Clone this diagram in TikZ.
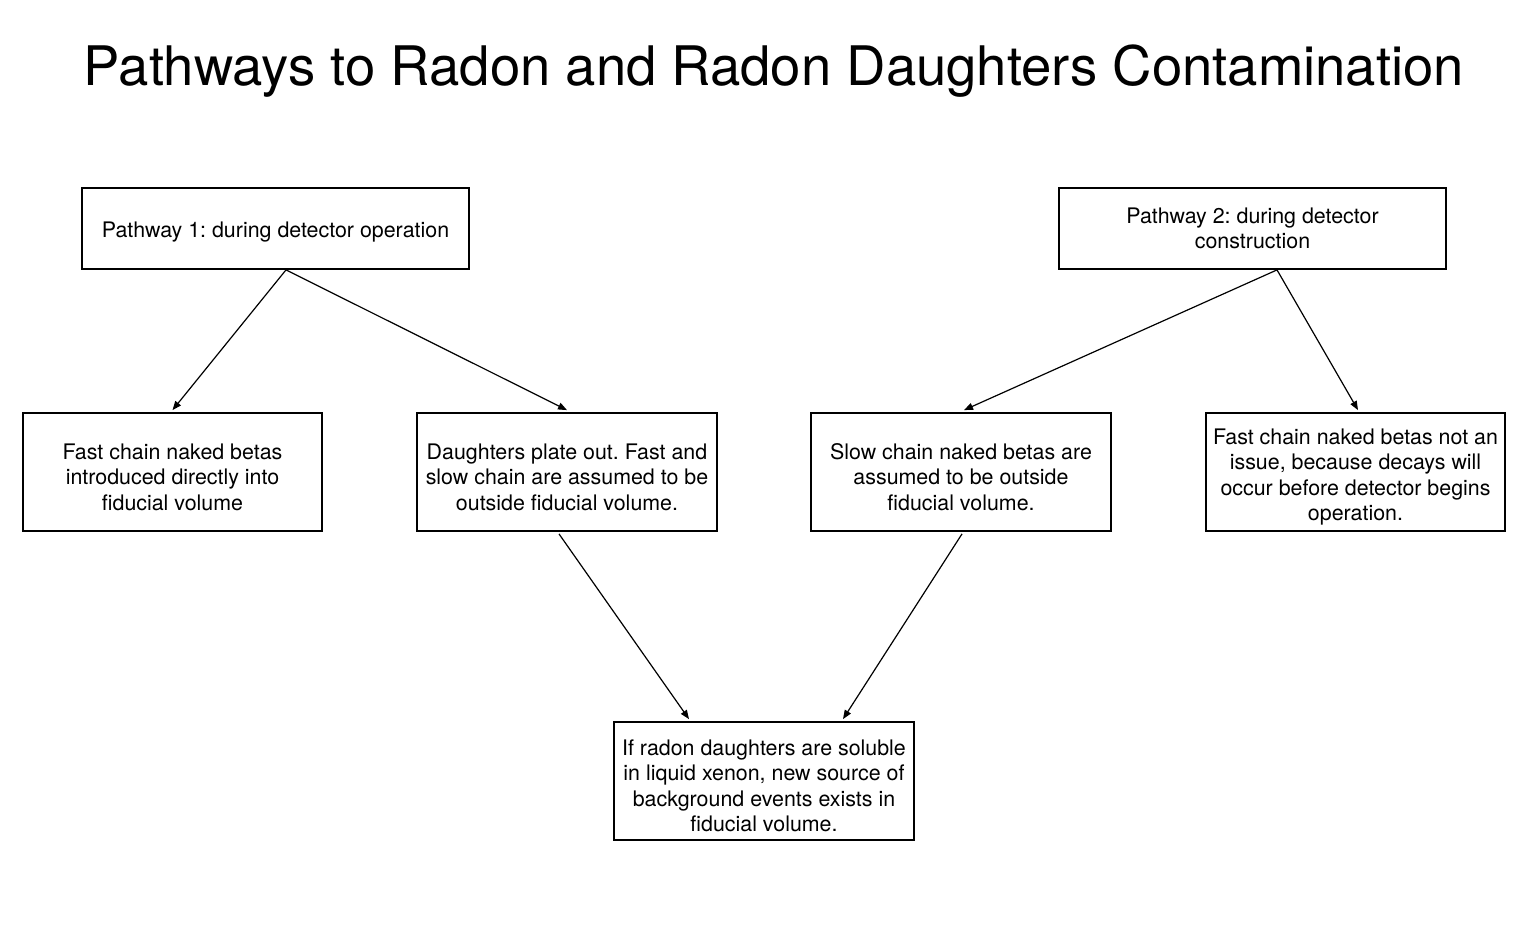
\documentclass[tikz,border=0pt]{standalone}
\usepackage{fontspec}
\setmainfont{TeX Gyre Heros}
\usetikzlibrary{arrows.meta}
\frenchspacing
\newcommand{\dropline}{\\[-33.5pt]\\}
\begin{document}
\begin{tikzpicture}[x=1pt,y=-1pt,
  box/.style={draw=black,line width=1.8pt,minimum width=#1,align=center,inner sep=0pt,font=\fontsize{21.4}{25.5}\selectfont},
  conn/.style={line width=1.2pt,-{Triangle[length=9pt,width=7pt]}}]
\useasboundingbox (0,0) rectangle (1522,924);
\node (title) at (774,71) {\fontsize{54.5}{60}\selectfont Pathways to Radon and Radon Daughters Contamination};
\node[box=387pt,minimum height=81pt,text height=19pt,text depth=1pt] (p1) at (275.5,228.5) {Pathway 1: during detector operation};
\node[box=387pt,minimum height=81pt] (p2) at (1252.5,228.5) {Pathway 2: during detector\\construction};
\node[box=299pt,minimum height=118pt] (b1) at (172.5,472) {\dropline Fast chain naked betas\\introduced directly into\\fiducial volume};
\node[box=300pt,minimum height=118pt] (b2) at (567,472) {\dropline Daughters plate out. Fast and\\slow chain are assumed to be\\outside fiducial volume.};
\node[box=300pt,minimum height=118pt] (b3) at (961,472) {\dropline Slow chain naked betas are\\assumed to be outside\\fiducial volume.};
\node[box=299pt,minimum height=118pt] (b4) at (1355.5,472) {\dropline Fast chain naked betas not an\\issue, because decays will\\occur before detector begins\\operation.};
\node[box=300pt,minimum height=118pt] (b5) at (764,781) {\dropline If radon daughters are soluble\\in liquid xenon, new source of\\background events exists in\\fiducial volume.};
\coordinate (p1s) at ([xshift=10.5pt]p1.south);
\coordinate (p2s) at ([xshift=24.5pt]p2.south);
\draw[conn] (p1s) -- ([shift={(0,-2)}]b1.north);
\draw[conn] (p1s) -- ([shift={(0,-2)}]b2.north);
\draw[conn] (p2s) -- ([shift={(3,-2)}]b3.north);
\draw[conn] (p2s) -- ([shift={(2.5,-2)}]b4.north);
\draw[conn] ([shift={(-8,2)}]b2.south) -- ([shift={(-75,-2)}]b5.north);
\draw[conn] ([shift={(1,2)}]b3.south) -- ([shift={(79,-2)}]b5.north);
\end{tikzpicture}
\end{document}
